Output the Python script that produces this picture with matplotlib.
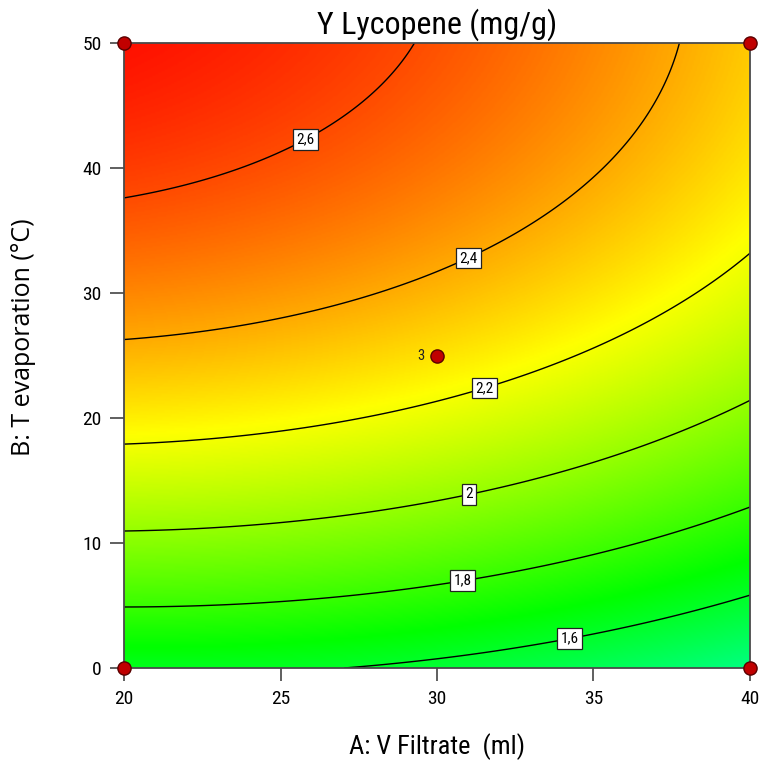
import numpy as np
import matplotlib
matplotlib.use('Agg')
import matplotlib.pyplot as plt
from matplotlib.colors import ListedColormap, hsv_to_rgb

# ---- Data ----
# Points where the response contours cross the edges / label positions
# (A: V Filtrate ml, B: T evaporation °C, Y Lycopene mg/g)
contour_A = [20, 20, 20, 20, 20, 40, 40, 40, 40, 29.4, 37.6, 27.7,
             25.8, 31.0, 31.5, 31.0, 30.8, 34.2]
contour_B = [37.6, 26.2, 17.9, 11.0, 5.0, 33.0, 21.2, 12.7, 6.0, 50, 50, 0,
             42.3, 32.8, 22.6, 14.2, 7.4, 2.8]
contour_Y = [2.6, 2.4, 2.2, 2.0, 1.8, 2.2, 2.0, 1.8, 1.6, 2.6, 2.4, 1.6,
             2.6, 2.4, 2.2, 2.0, 1.8, 1.6]
contour_weight = [3, 3, 3, 3, 3, 3, 3, 3, 3, 3, 3, 8,
                  1, 1, 1, 1, 1, 1]

levels = [1.6, 1.8, 2.0, 2.2, 2.4, 2.6]
level_labels = ['1,6', '1,8', '2', '2,2', '2,4', '2,6']
label_A = [34.2, 30.8, 31.0, 31.5, 31.0, 25.8]
label_B = [2.8, 7.4, 14.2, 22.6, 32.8, 42.3]

design_A = [20, 20, 40, 40, 30]
design_B = [0, 50, 0, 50, 25]
center_reps = '3'

xticks = [20, 25, 30, 35, 40]
yticks = [0, 10, 20, 30, 40, 50]

title = 'Y Lycopene (mg/g)'
xlabel = 'A: V Filtrate  (ml)'
ylabel = 'B: T evaporation (°C)'

# ---- Quadratic response surface fitted to the read contour points ----
def terms(A, B):
    a = (np.asarray(A, float) - 30) / 10
    b = (np.asarray(B, float) - 25) / 25
    return np.stack([np.ones_like(a), a, b, a * b, a ** 2, b ** 2], axis=-1)

w = np.sqrt(np.asarray(contour_weight, float))
coef, *_ = np.linalg.lstsq(terms(contour_A, contour_B) * w[:, None],
                           np.asarray(contour_Y) * w, rcond=None)

Ag = np.linspace(20, 40, 400)
Bg = np.linspace(0, 50, 400)
AA, BB = np.meshgrid(Ag, Bg)
Z = terms(AA, BB) @ coef

# colour map: spring-green (low) -> green -> yellow -> orange -> red (high)
hues = np.linspace(150 / 360, 4 / 360, 256)
cmap = ListedColormap(hsv_to_rgb(np.stack([hues, np.ones(256), np.ones(256)], axis=1)))

narrow = ['Roboto Condensed', 'DejaVu Sans']

fig = plt.figure(figsize=(7.68, 7.67), dpi=100)
ax = fig.add_axes([0.1615, 0.1291, 0.815, 0.8148])

ax.imshow(Z, extent=(20, 40, 0, 50), origin='lower', aspect='auto', cmap=cmap,
          vmin=Z.min(), vmax=Z.max(), interpolation='bilinear')
cs = ax.contour(AA, BB, Z, levels=levels, colors='black', linewidths=1.0)
texts = ax.clabel(cs, levels, inline=False, fontsize=11,
                  fmt=dict(zip(levels, level_labels)),
                  manual=list(zip(label_A, label_B)))
for t in texts:
    t.set_rotation(0)
    t.set_family(narrow)
    t.set_bbox(dict(facecolor='white', edgecolor='#222222', linewidth=0.9,
                    boxstyle='square,pad=0.22'))

ax.plot(design_A, design_B, 'o', ms=9.5, mfc='#c00000', mec='#5a0000',
        mew=1.0, clip_on=False, zorder=5)
ax.text(design_A[-1] - 0.4, design_B[-1], center_reps, fontsize=10.5,
        family=narrow, ha='right', va='center', color='#222222')

ax.set_xlim(20, 40)
ax.set_ylim(0, 50)
ax.set_xticks(xticks)
ax.set_yticks(yticks)
ax.set_xticklabels([str(v) for v in xticks], family=narrow, fontsize=14)
ax.set_yticklabels([str(v) for v in yticks], family=narrow, fontsize=14)
ax.tick_params(axis='x', direction='out', length=9, width=1.2, color='#444444', pad=7)
ax.tick_params(axis='y', direction='out', length=10, width=1.2, color='#444444', pad=6)
for s in ax.spines.values():
    s.set_color('#4a4a4a')
    s.set_linewidth(1.3)

ax.set_title(title, family=narrow, fontsize=23, pad=7)
ax.set_xlabel(xlabel, family=narrow, fontsize=19, va='center')
ax.xaxis.set_label_coords(0.5, -0.125)
ax.set_ylabel(ylabel, family=['Open Sans', 'DejaVu Sans'], fontsize=18, va='center')
ax.yaxis.set_label_coords(-0.16, 0.529)

fig.savefig('out.png', dpi=100)
